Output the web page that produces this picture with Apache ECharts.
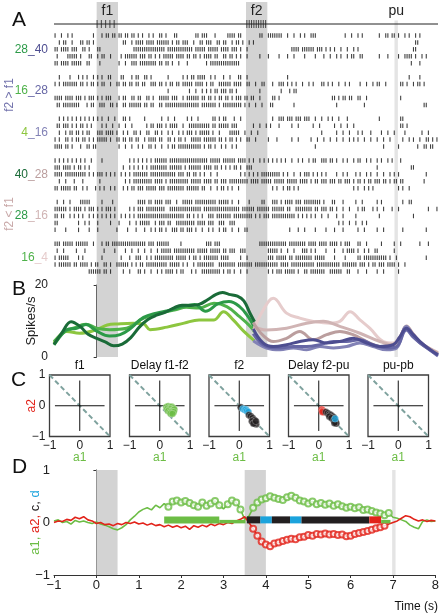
<!DOCTYPE html>
<html><head><meta charset="utf-8">
<script src="https://cdn.jsdelivr.net/npm/echarts@6/dist/echarts.min.js"></script>
<style>html,body{margin:0;padding:0;background:#fff}#c{width:442px;height:616px}</style>
</head><body><div id="c"></div>
<script>
// ================= DATA =================
const TIME_MIN = -1, TIME_MAX = 8;
const f1Band = [0, 0.5];
const f2Band = [3.5, 4.0];
const puBand = [6.98, 7.06];
const f1Ticks = [0.01, 0.11, 0.21, 0.31, 0.41];
const f2Ticks = [3.52, 3.575, 3.63, 3.685, 3.74, 3.795, 3.85, 3.905, 3.96];
const stimLine = [[-1, 0.5], [8, 0.5]];

// raster: each row = 180 bins of 50 ms from -1 s to 8 s ('|' = spike)
const BIN_SEC = 0.05;
const conditions = ['28_40', '16_28', '4_16', '40_28', '28_16', '16_4'];
const raster_28_40 = [
 "|..|..|.|. ........|. ..|.||.||. ||.||.||.| .|..|.|..| |.|...||.. ......||.| ||...|.... .||||.||.. ......||.. |||||||..| ..|..|.|.. |||....... ......|..| ..|.|..... ..|..||.|| .|..|.|..| .|........",
 "..|.||..|. ..||.||.|. .......... ..||..|.|| ||.||||.|| ||||.|.||. |||..|..|| .|||..||.| |..|.||.|. .|.|...... .......... .......... .......... .......... .......... .......... .........| |.........",
 "||.||||.|| |..||.|... ||........ .......||| |||||||||| ||.||||||| |||||.|||| |.|||||.|| ||.|||.|.. |......... .......... .||||.|||| ||.|||.|.| .|..|..|.. |.|....... .......... ........|| ..........",
 ".|....|||| |.|...||.. |.||..|... .|.||||||. |||.||.|.| .|||||.||| |.||.||.|. ||||.||..| |.||.|.|.. |.....|... |....|...| ..|....|.. ..|...|..| ..|.|..|.| |..||..... ..|...|... .|..||||.| ..|.|.....",
 "||.||||.|| |||..||... .|........ |..|..|||. ||||||||.| |.||.|..|. ..|....... .|.||||||| |||||||... .......... .......... .......... .......... .......... .......... .......... .......|.. .|........"
];
const raster_16_28 = [
 "..|....|.. .|.|.|..|. |.|..||... .||...|.|| ..||.|.... ...|...... |.|.||.||| |..|.|...| ..|...||.. |......... .........| .......... .......... .......... .......... .......... ......|... .|........",
 "|.|.|||||| |.||.|.||. |.||..|..| |.||.||.|| .||..|||.| |.|.||.||. |||||.|||| .|.||..||| |||.||||.. ||..|..||. ..|..|||.| .|.|..|..| .|...||.|. |..|..|.|. ...|..|..| .||..|.... ..||.|..|. ||.|......",
 ".......... .......... .......... .......... .......... ...|...... ...|..|..| .|.|.||.|| |.||.|.... ......|... ......|... |.||...... .......... .......... .......... .......... .......... ..........",
 "||||.||||. |||.|.|||. |.|.|||... |.||..||.| |..||.|..| ||||.|||.. |.||||||.| |.||.|.||. ||.|.|||.| |.||..|... ..||.|.... .......... .......... ||.|.||.|| ..||..|... .......... ..|....... ..........",
 ".||.|||||| ||...|.||. .|||..||.| ..||.||||| |.||.||..| |.|||||||| ||||||||.| ||||||.|.| ||||||||.| .|..|..|.. .||....... ..|....... .......... ..|....... .....|.... .......... .......... ...||....."
];
const raster_4_16 = [
 "..|.|.|.|. |.|.|.|.|. |.|..|..|. ..||.|.... ..|....... |..|..|... ..|.|..|.. ....||.|.| |...|..|.. .......... ..|..|||.| ||.|||.||| ..|..|..|. |..|...|.. .......... ..|....... ..||...... ..........",
 ".||.|||.|. |.||.|.|.. ..|.|..|.. |..|..|... ...|.||.|| |.|.||||.. |..||||||| |||.||.||| ||.|||.... ...|..|..| .|...|.... .|..|..... .|..|..... .|..|..|.. |......... .......... ..||.|.... ..........",
 "..|..|.||. ||.|.||... |||.||||.| ..|.|..||. |..||..||. |..|.|..|. |.|||.|.|| |||.|..|.. ..|||||..| ..|..|.... .......... .......... .....|.... ..|..|..|. ..|.|...|. ...|..|..| ....|..... ..|..|....",
 "|.|..||.|. ||.||.|.|. |||||.|..| |.||.||.|| ..|.||||.| |..||.|.|| .|..|||||. ||||||.||. |.||.|.|.. ||..|..... |...|..... .|..|..... |..|..|..| ..|..|..|. |.|..|..|. .|..|..|.. ...|..|.|. .|..||.|.|",
 "||||.||.|. ..|..||.|| .......... |..|..|..| .|..||.|.. |..|.||.|| |||||||||. |.||.|..|. |..|.|.... .......... .......... .......... ..|....... .......... .......... ....|..... .|........ |..||.||.."
];
const raster_40_28 = [
 "|.|.|.|.|. |.|.|..|.. ..|....... .....|.|.| .|.|.|.||| |||.|||||| |||||||||| ||.|||||.| |||||.|||| .|.|..|.|. |.|.|.|.|. .|..|.|..| .||..|||.| |.|..|.|.. |.||..|.|. .|.|..|.|. ..|....... ..........",
 "|||.||||.| .||.|.|... .......... ..|..|.|.| .|.|.||||| |||.|||||| .|.||||||. ||||.||.|. |.|.||.|.. |||....... .......... .......... .......... .......... .......... .|........ .......||. ..........",
 "||||.||||| |||||.|.|. |||.|.|.|. .|.|.|.||| ||||.||||| |||||||.|| |.||.||.|. |..|..|... .......|.| .|.|.|.||| ||||||.|.| ..|..|.||| .|.|.|.|.. ..|..|.|.. .|.|..|.|. .|..|..|.| .|........ ....|.....",
 "..|..|...| ...|...... .|........ ...|.|.||| ||||||.||| |.|.|||||| |||.|||||. ||||.||.|| |.|||||||| |.||||.||| ||.|||||.| ||||.||||. |.||.|||.| ||.||.|||. |.||.|.||. |||.||.|.| |.||...... ...|......",
 "||.|||||.| |..|.|...| .|.|..|.|. ..|.|.||.| ||.|||||.| ||.||||||| |.||||||.| |..|..|.|| .|.|..|... .......... ..|.|..|.| |.|.|..... .......... .......... |.|..|.|.| .......... .|.|..|... .........."
];
const raster_28_16 = [
 ".|..|..|.. ..|||||... ..|....|.. .........| |||.||.||| |.|||..|.. |||||.|||| ||||||.||| ||.|..|... .|.....||. ..|||.|.|| ||.|||.||| |||||.|... ||...|.... .|..|..... .|.|...... ...|..||.. ..........",
 "||||||.|.| |||.|.|||. |.|.|||.|. .....|.|.| ||.||||||| ||..|||||| |||||||||. |||||||||| |||||||.|| ||||.||||| |.||||||.| |..||||||| |.||.|||.| |.|..|..|. ..|.||...| .|..|...|. .|........ .....|...|",
 "||.||..|.| .|.|..|.|. |.|.|.|.|. .|.|.|.|.| |||||||||| |||||||||| |.||.|.|.| ..|||.|||| |||.|||||| |||.|.|.|| |.|||||||| |||.|.|.|. |.|..|..|. ..|..|.... .|........ ..|....... ........|. ..........",
 "||........ .|..|.|... |.....|... |....|..|. |||||..|.| ||.||..||| ||||||.||| |.|||..||| ..|||..... .......... .......... .......... .......... ...|.|..|. .|..|.|... .......... .......... ..........",
 "|....|.... .|....|... |........| ....|...|. ..|..|.|.| |.|..|||.| |.|||.|..| ..|.|..|.| |..|..|..| |......... .......... |...|..|.. ..|....|.. .|...|.... ..|..|.... .|..|..... ...|...... ....|....."
];
const raster_16_4 = [
 "|||.|||||. ||||||..|. ..|.||.||| |||||||||| |||.|||.|| ||||.....| .......... .|||.|||.. .......... ......|||| |||||||||. ||||||||.| |||.||||.| |||.|.|||. ..||..|... ...|.....| ..|....... .|...|....",
 ".|..|..... |...|..... ...|....|. ...|..|..| ..|..|..|. |||||.|||| ||||||.||| ||.|||||.| |.|||..||| .......... |||||.|..| ..|...|||. |.|....|.. .|...|.||| |.|..|.|.. ||.......| .......... ..........",
 "|.|||||... .|.|...... ..|....... .|...|..|| |..|.|.||| ||||||.||| ||.|.||.|. |||||||.|| ||.....|.. |......... |||.|||||. ||.||||||| |.|||||... .|....|... ..||.||||| ||||||.|.. |......... ....|.....",
 "|.||||||.| |.||||.|.| |..||.|..| |||||.|.|. ||.||||||| |||.|||||. |.|..|.||| |||||..||| |||||.|||| |||.|||||| |||||.|||| .||||||||| ||.||||||| ||||.||||| ||.|||.|.| |.|||.|||| .|..|..... ..........",
 ".......... ......|||| ||.||.|... ..|..|...| |.|..|..|. |.||||.|.| |...|.|..| ||||||||.| .||.|..|.. |......... |.|.|||.|| |||.|..||. |||||||..| |||||..||. ..|...|... .|..|..... .|........ .........."
];
const rasterByCondition = [raster_28_40, raster_16_28, raster_4_16, raster_40_28, raster_28_16, raster_16_4];

// firing rates (spikes/s): [time s, rate]
const rate_f1_4  = [[-1,3.9],[-0.7,7.1],[-0.4,6.6],[0,7.6],[0.25,8.9],[0.5,9.2],[0.85,9.4],[1.1,9.2],[1.25,7.6],[1.65,8.3],[2.05,9.4],[2.4,10.3],[2.75,10.3],[2.97,12.6],[3.2,10.3],[3.45,7.1],[3.7,4.5]];
const rate_f1_16 = [[-1,4.3],[-0.75,7],[-0.55,8],[-0.25,9.1],[0,8],[0.3,7.6],[0.7,8],[1.1,10.8],[1.5,12.2],[1.85,13.1],[2.1,13.8],[2.4,13.6],[2.75,14.9],[3.05,14],[3.35,11.2],[3.6,8.5],[3.7,7]];
const rate_f1_28 = [[-1,3.4],[-0.8,6.5],[-0.7,7.6],[-0.47,8],[-0.25,9],[0,7.2],[0.3,5.8],[0.55,6.2],[0.8,8],[1.1,11],[1.4,12.2],[1.7,12.9],[2.0,14],[2.3,14.6],[2.55,12.7],[2.85,14.8],[3.1,15.4],[3.35,14],[3.55,11.2],[3.7,8.2]];
const rate_f1_40 = [[-1,3.5],[-0.8,7],[-0.6,9.8],[-0.4,8.6],[-0.2,6.3],[0,5.2],[0.2,4.2],[0.4,3.1],[0.6,3.6],[0.8,5.4],[1.0,8.3],[1.2,10.4],[1.4,11.6],[1.6,12.4],[1.8,13.6],[2.0,14.4],[2.2,14.3],[2.4,14.6],[2.6,15.9],[2.8,17.4],[2.95,17.9],[3.1,17.4],[3.3,16.9],[3.45,15.6],[3.6,12],[3.7,9.8]];
const rate_28_40 = [[3.67,7.8],[3.9,3.9],[4.14,2.9],[4.45,3.4],[4.76,4.3],[5.08,4.8],[5.39,3.9],[5.7,4.3],[6.01,5.2],[6.33,3.9],[6.64,2.9],[6.95,3.4],[7.1,5.5],[7.26,8],[7.42,6.2],[7.58,4.3],[7.8,2.2],[8,0.6]];
const rate_16_28 = [[3.67,6.5],[3.98,2.9],[4.3,2.5],[4.61,2.9],[4.92,2.9],[5.23,3.4],[5.55,4.3],[5.86,4.3],[6.17,4.8],[6.48,3.4],[6.8,2.5],[7.03,2.9],[7.26,7.5],[7.42,5.5],[7.58,3.9],[7.8,2],[8,0.3]];
const rate_4_16  = [[3.67,4.5],[3.98,2.5],[4.3,2.0],[4.61,2.5],[4.92,2.0],[5.23,2.9],[5.55,2.5],[5.86,2.9],[6.17,3.9],[6.48,2.9],[6.8,2.0],[7.03,2.5],[7.26,8.5],[7.42,6],[7.58,3.9],[7.8,2.1],[8,0.6]];
const rate_40_28 = [[3.67,9.6],[3.9,6],[4.14,4.3],[4.45,5.2],[4.76,7.1],[5.08,4.8],[5.39,6.2],[5.7,7.1],[6.01,6.2],[6.33,4.3],[6.64,2.9],[6.95,3.4],[7.1,5.2],[7.26,8.6],[7.42,6.4],[7.58,4.2],[7.8,2.3],[8,0.9]];
const rate_28_16 = [[3.67,8.4],[3.98,7.5],[4.45,8],[4.92,9.4],[5.31,9.9],[5.7,8.5],[6.17,6.6],[6.64,4.3],[6.95,3.4],[7.1,5.4],[7.26,8.3],[7.42,6.2],[7.58,4],[7.8,2.4],[8,1.2]];
const rate_16_4  = [[3.67,7.2],[3.9,13],[4.14,16.3],[4.45,12.2],[4.76,10.8],[5.08,9.9],[5.47,9.4],[5.7,9.9],[5.94,12.6],[6.17,10.3],[6.4,8],[6.72,4.3],[6.95,3.9],[7.1,5.5],[7.26,8.3],[7.42,6],[7.58,3.9],[7.8,2.2],[8,1]];

// panel C: (a1, a2) points per epoch
const cEpochTitles = ['f1', 'Delay f1-f2', 'f2', 'Delay f2-pu', 'pu-pb'];
const diagLine = [[-1, 1], [1, -1]];
const crossH = [[-0.82, 0], [0.82, 0]];
const crossV = [[0, -0.82], [0, 0.82]];
const cDelay12_a1 = [[0.22,-0.04],[0.28,-0.02],[0.34,-0.05],[0.4,-0.03],[0.45,-0.08],[0.25,-0.1],[0.31,-0.12],[0.37,-0.1],[0.43,-0.14],[0.48,-0.12],[0.28,-0.17],[0.34,-0.2],[0.4,-0.19],[0.46,-0.2],[0.36,-0.25],[0.42,-0.26]];
const cF2_c1 = [[0.05,-0.05]];
const cF2_d  = [[0.12,-0.1],[0.18,-0.13],[0.22,-0.12],[0.25,-0.17],[0.3,-0.2]];
const cF2_c2 = [[0.32,-0.3],[0.38,-0.34],[0.44,-0.4],[0.5,-0.46],[0.42,-0.5],[0.5,-0.56],[0.56,-0.6],[0.47,-0.58],[0.55,-0.5]];
const cF2pu_a2 = [[0.1,-0.12],[0.14,-0.16],[0.18,-0.2],[0.12,-0.2]];
const cF2pu_c  = [[0.24,-0.2],[0.3,-0.24],[0.35,-0.28],[0.4,-0.3],[0.45,-0.34],[0.5,-0.38],[0.35,-0.35],[0.42,-0.4],[0.5,-0.48],[0.56,-0.52],[0.58,-0.58],[0.52,-0.56]];
const cF2pu_d  = [[0.54,-0.42]];

// panel D: time course of coefficients (0.1 s steps from -1 to 8 s)
const dTime = Array.from({length: 91}, (_, i) => +(TIME_MIN + i * 0.1).toFixed(1));
const a1Values = [0.03,0.05,0.0,0.02,-0.03,0.04,0.01,0.03,0.0,-0.02,
  0.01,-0.03,-0.05,-0.08,-0.12,-0.14,-0.1,-0.04,0.05,0.12,
  0.2,0.25,0.28,0.24,0.33,0.28,0.36,0.3,0.4,0.42,
  0.38,0.41,0.37,0.33,0.3,0.38,0.32,0.36,0.41,0.33,
  0.26,0.35,0.42,0.38,0.25,0.06,0.12,0.28,0.38,0.44,
  0.46,0.5,0.47,0.45,0.43,0.48,0.51,0.47,0.42,0.4,
  0.36,0.4,0.35,0.37,0.34,0.36,0.32,0.35,0.31,0.28,
  0.3,0.27,0.29,0.24,0.25,0.22,0.19,0.17,0.14,0.18,
  0.1,0.08,0.05,0.02,-0.05,-0.09,-0.12,0.02,0.05,0.02,0.03];
const a2Values = [0.0,0.03,0.02,0.06,0.04,0.1,0.07,0.11,0.05,0.03,
  -0.02,0.0,-0.04,-0.03,-0.06,-0.02,-0.04,0.0,-0.02,0.01,
  -0.03,-0.01,-0.05,-0.02,-0.06,-0.04,-0.08,-0.05,-0.09,-0.06,
  -0.1,-0.07,-0.13,-0.06,-0.09,-0.05,-0.08,-0.03,-0.06,-0.02,
  -0.04,0.0,-0.02,0.03,0.06,0.11,0.0,-0.12,-0.25,-0.36,
  -0.42,-0.45,-0.4,-0.38,-0.35,-0.33,-0.31,-0.32,-0.28,-0.27,
  -0.24,-0.25,-0.22,-0.23,-0.21,-0.23,-0.22,-0.24,-0.23,-0.26,
  -0.25,-0.22,-0.2,-0.18,-0.16,-0.14,-0.11,-0.09,-0.06,-0.03,
  0.0,0.03,0.08,0.13,0.11,0.06,0.03,0.05,0.02,0.04,0.03];
const a1SigWindows = [[1.7, 2.9], [3.1, 3.4], [3.7, 6.95]];
const a2SigWindows = [[3.7, 6.8]];
const BAR_Y = 0.05;
const barSegments = [[1.6,2.9,'a1'],[2.9,3.52,'a1thin'],[3.55,3.87,'c'],[3.87,4.14,'d'],[4.14,4.57,'c'],[4.57,4.84,'d'],[4.84,6.44,'c'],[6.44,6.72,'a2'],[6.72,6.94,'a1thin']];

// ================= STYLE =================
const FONT = '"Liberation Sans", Arial, Helvetica, sans-serif';
const GREEN = '#6cbd45', RED = '#e2231a', BLACK = '#231f20', BLUE = '#1ba3dc';
const BAND = '#d3d3d3', PU_BAND = '#e4e4e4';
const f1Colors = {4: '#8dc63f', 16: '#4fb24a', 28: '#2c9a48', 40: '#1a6b38'};
const f2UpColors = {16: '#8282b6', 28: '#6666a5', 40: '#4d4d90'};
const f2DownColors = {4: '#e6cccc', 16: '#d0b4b4', 28: '#bb9e9e'};
const fmt = v => v < 0 ? '\u2212' + Math.abs(v) : String(v);

// ================= BUILD =================
const ROWS_PER_GROUP = 6;
const spikes = [];
rasterByCondition.forEach((rows, g) => rows.forEach((row, k) => {
  const bins = row.trim().split(/\s+/).map(b => (b + '..........').slice(0, 10)).join('');
  for (let i = 0; i < bins.length; i++) {
    if (bins[i] === '|') spikes.push([TIME_MIN + (i + 0.5) * BIN_SEC, g * ROWS_PER_GROUP + k]);
  }
}));
const NROWS = ROWS_PER_GROUP * conditions.length - 1;
const rowNames = Array.from({length: NROWS}, (_, i) => conditions[Math.floor(i / ROWS_PER_GROUP)]);
const richLabels = {};
Object.keys(f1Colors).forEach(k => richLabels['g' + k] = {color: f1Colors[k], fontSize: 12, fontFamily: FONT});
Object.keys(f2UpColors).forEach(k => richLabels['u' + k] = {color: f2UpColors[k], fontSize: 12, fontFamily: FONT});
Object.keys(f2DownColors).forEach(k => richLabels['p' + k] = {color: f2DownColors[k], fontSize: 12, fontFamily: FONT});
function condLabel(c) {
  const [f1, f2] = c.split('_').map(Number);
  return '{g' + f1 + '|' + f1 + '}{' + (f2 > f1 ? 'u' : 'p') + f2 + '|_' + f2 + '}';
}

const inWin = (t, wins) => wins.some(([s, e]) => t >= s - 1e-6 && t <= e + 1e-6);
const a1Data = dTime.map((t, i) => [t, a1Values[i]]);
const a2Data = dTime.map((t, i) => [t, a2Values[i]]);
const a1Sig = a1Data.filter(p => inWin(p[0], a1SigWindows));
const a2Sig = a2Data.filter(p => inWin(p[0], a2SigWindows));
const BAR_KINDS = {a1: {color: GREEN, thin: false}, a1thin: {color: GREEN, thin: true}, a2: {color: RED, thin: false}, c: {color: BLACK, thin: false}, d: {color: BLUE, thin: false}};
const kindNames = Object.keys(BAR_KINDS);
const barData = barSegments.map(([s, e, k]) => [s, e, kindNames.indexOf(k), BAR_Y]);

const C_LEFTS = [49.5, 129.5, 209, 288.5, 368];
const C_W = 60.5, C_TOP = 375, C_H = 61.5;

const grids = [
  {left: 54, top: 2, width: 384, height: 355},
  {left: 54, top: 14, width: 384, height: 20},
  {left: 54, top: 32, width: 384, height: 243},
  {left: 54, top: 285, width: 384, height: 72},
  ...C_LEFTS.map(l => ({left: l, top: C_TOP, width: C_W, height: C_H, show: true, borderColor: '#3d3d3d', borderWidth: 1.3, backgroundColor: 'transparent'})),
  {left: 54, top: 470, width: 384, height: 105}
];
const timeAxisHidden = gi => ({gridIndex: gi, type: 'value', min: TIME_MIN, max: TIME_MAX, show: false});
const xAxes = [timeAxisHidden(0), timeAxisHidden(1), timeAxisHidden(2), timeAxisHidden(3)];
const yAxes = [
  {gridIndex: 0, type: 'value', min: 0, max: 1, show: false},
  {gridIndex: 1, type: 'value', min: 0, max: 1, show: false},
  {gridIndex: 2, type: 'category', data: rowNames, inverse: true, boundaryGap: true,
    axisLine: {show: false}, axisTick: {show: false}, splitLine: {show: false},
    axisLabel: {interval: (idx) => idx % ROWS_PER_GROUP === 2, margin: 6, fontSize: 12,
      formatter: (v) => condLabel(v), rich: richLabels}},
  {gridIndex: 3, type: 'value', min: 0, max: 20, interval: 20, offset: 2,
    axisLine: {show: true, lineStyle: {color: '#333', width: 1}},
    axisTick: {show: true, length: 3, lineStyle: {color: '#333'}},
    splitLine: {show: false},
    axisLabel: {fontSize: 12, color: '#222', margin: 4, fontFamily: FONT},
    name: 'Spikes/s', nameLocation: 'middle', nameGap: 14, nameRotate: 90, nameMoveOverlap: false,
    nameTextStyle: {fontSize: 13, color: '#222', fontFamily: FONT}}
];
C_LEFTS.forEach((l, i) => {
  const gi = 4 + i;
  xAxes.push({gridIndex: gi, type: 'value', min: -1, max: 1, interval: 1,
    axisLine: {show: false}, axisTick: {show: false}, splitLine: {show: false},
    axisLabel: {fontSize: 12, color: '#222', margin: 3, formatter: fmt, fontFamily: FONT},
    name: 'a1', nameLocation: 'middle', nameGap: 15, nameMoveOverlap: false, nameTextStyle: {color: GREEN, fontSize: 12, fontFamily: FONT}});
  yAxes.push({gridIndex: gi, type: 'value', min: -1, max: 1, interval: 1,
    axisLine: {show: false}, axisTick: {show: false}, splitLine: {show: false},
    axisLabel: {show: i === 0, fontSize: 12, color: '#222', margin: 4, formatter: fmt, fontFamily: FONT},
    name: i === 0 ? 'a2' : '', nameLocation: 'middle', nameGap: 12, nameRotate: 90, nameMoveOverlap: false,
    nameTextStyle: {color: RED, fontSize: 12, fontFamily: FONT}});
});
xAxes.push({gridIndex: 9, type: 'value', min: TIME_MIN, max: TIME_MAX, interval: 1,
  axisLine: {show: true, onZero: false, lineStyle: {color: '#333', width: 1}},
  axisTick: {show: true, length: 3, lineStyle: {color: '#333'}},
  splitLine: {show: false},
  axisLabel: {fontSize: 13, color: '#222', margin: 4, formatter: fmt, fontFamily: FONT}});
yAxes.push({gridIndex: 9, type: 'value', min: -1, max: 1, interval: 1,
  axisLine: {show: true, lineStyle: {color: '#333', width: 1}},
  axisTick: {show: true, length: 3, lineStyle: {color: '#333'}},
  splitLine: {show: false},
  axisLabel: {fontSize: 13, color: '#222', margin: 4, formatter: fmt, fontFamily: FONT},
  name: '{g|a1,} {r|a2,} {k|c,} {b|d}', nameLocation: 'middle', nameGap: 12, nameRotate: 90, nameMoveOverlap: false,
  nameTextStyle: {fontSize: 13, fontFamily: FONT, rich: {
    g: {color: GREEN, fontSize: 13, fontFamily: FONT}, r: {color: RED, fontSize: 13, fontFamily: FONT},
    k: {color: BLACK, fontSize: 13, fontFamily: FONT}, b: {color: BLUE, fontSize: 13, fontFamily: FONT}}}});

const series = [];
// bands behind panels A and B
series.push({type: 'line', xAxisIndex: 0, yAxisIndex: 0, data: [[TIME_MIN, 0]], symbol: 'none', lineStyle: {opacity: 0}, silent: true, z: 0,
  markArea: {silent: true, itemStyle: {color: BAND},
    label: {show: true, position: 'insideTop', distance: 2, fontSize: 14, color: '#222', fontFamily: FONT},
    data: [
      [{xAxis: f1Band[0], yAxis: 0, name: 'f1'}, {xAxis: f1Band[1], yAxis: 1}],
      [{xAxis: f2Band[0], yAxis: 0, name: 'f2'}, {xAxis: f2Band[1], yAxis: 1}],
      [{xAxis: puBand[0], yAxis: 0, name: 'pu', itemStyle: {color: PU_BAND}, label: {position: 'top', distance: 2}}, {xAxis: puBand[1], yAxis: 0.948}]
    ]}});
// stimulus line
series.push({type: 'line', xAxisIndex: 1, yAxisIndex: 1, data: stimLine, symbol: 'none', lineStyle: {color: '#222', width: 1}, silent: true, z: 3});
series.push({type: 'scatter', xAxisIndex: 1, yAxisIndex: 1, data: [...f1Ticks, ...f2Ticks].map(t => [t, 0.5]), symbol: 'rect', symbolSize: [1, 8], itemStyle: {color: '#222'}, silent: true, z: 3});
// raster
series.push({type: 'scatter', xAxisIndex: 2, yAxisIndex: 2, data: spikes, symbol: 'rect', symbolSize: [1.1, 4.5], itemStyle: {color: '#111'}, silent: true, z: 3});
// rates
const rateSeries = [
  [rate_f1_4, f1Colors[4]], [rate_f1_16, f1Colors[16]], [rate_f1_28, f1Colors[28]], [rate_f1_40, f1Colors[40]],
  [rate_16_4, f2DownColors[4]], [rate_28_16, f2DownColors[16]], [rate_40_28, f2DownColors[28]],
  [rate_4_16, f2UpColors[16]], [rate_16_28, f2UpColors[28]], [rate_28_40, f2UpColors[40]]
];
rateSeries.forEach(([d, c]) => series.push({type: 'line', xAxisIndex: 3, yAxisIndex: 3, data: d, smooth: 0.4, symbol: 'none', lineStyle: {color: c, width: 3}, silent: true, z: 3}));
// panel C
const cPoints = [
  [],
  [[cDelay12_a1, GREEN]],
  [[cF2_c1, BLACK], [cF2_d, BLUE], [cF2_c2, BLACK]],
  [[cF2pu_a2, RED], [cF2pu_c, BLACK], [cF2pu_d, BLUE]],
  []
];
C_LEFTS.forEach((l, i) => {
  const ax = 4 + i;
  series.push({type: 'line', xAxisIndex: ax, yAxisIndex: ax, data: diagLine, symbol: 'none', lineStyle: {color: '#7fa29e', width: 2, type: [5, 3]}, silent: true, z: 2});
  series.push({type: 'line', xAxisIndex: ax, yAxisIndex: ax, data: crossH, symbol: 'none', lineStyle: {color: '#111', width: 1}, silent: true, z: 3});
  series.push({type: 'line', xAxisIndex: ax, yAxisIndex: ax, data: crossV, symbol: 'none', lineStyle: {color: '#111', width: 1}, silent: true, z: 3});
  cPoints[i].forEach(([pts, col]) => series.push({type: 'scatter', xAxisIndex: ax, yAxisIndex: ax, data: pts, symbol: 'circle', symbolSize: 7,
    itemStyle: {color: col, borderColor: 'rgba(255,255,255,0.55)', borderWidth: 0.6}, silent: true, z: 4}));
});
// panel D
series.push({type: 'line', xAxisIndex: 9, yAxisIndex: 9, data: [[TIME_MIN, 0]], symbol: 'none', lineStyle: {opacity: 0}, silent: true, z: 0,
  markArea: {silent: true, itemStyle: {color: BAND}, data: [
    [{xAxis: f1Band[0]}, {xAxis: f1Band[1]}],
    [{xAxis: f2Band[0]}, {xAxis: f2Band[1]}],
    [{xAxis: puBand[0], itemStyle: {color: PU_BAND}}, {xAxis: puBand[1]}]
  ]}});
series.push({type: 'line', xAxisIndex: 9, yAxisIndex: 9, data: a1Data, symbol: 'none', lineStyle: {color: GREEN, width: 1.6}, silent: true, z: 3});
series.push({type: 'line', xAxisIndex: 9, yAxisIndex: 9, data: a2Data, symbol: 'none', lineStyle: {color: RED, width: 1.6}, silent: true, z: 4});
series.push({type: 'scatter', xAxisIndex: 9, yAxisIndex: 9, data: a1Sig, symbol: 'emptyCircle', symbolSize: 6, itemStyle: {color: GREEN, borderColor: GREEN, borderWidth: 1.1}, silent: true, z: 3});
series.push({type: 'scatter', xAxisIndex: 9, yAxisIndex: 9, data: a2Sig, symbol: 'emptyCircle', symbolSize: 6, itemStyle: {color: RED, borderColor: RED, borderWidth: 1.1}, silent: true, z: 4});
series.push({type: 'custom', xAxisIndex: 9, yAxisIndex: 9, data: barData, encode: {x: [0, 1], y: 3}, silent: true, z: 5,
  renderItem: (params, api) => {
    const p1 = api.coord([api.value(0), api.value(3)]);
    const p2 = api.coord([api.value(1), api.value(3)]);
    const k = BAR_KINDS[kindNames[api.value(2)]];
    const h = 7;
    return {type: 'rect', shape: {x: p1[0], y: k.thin ? p1[1] : p1[1] - h / 2, width: p2[0] - p1[0], height: k.thin ? h / 2 : h}, style: {fill: k.color}};
  }});

const txt = (text, x, y, size, color, extra) => Object.assign({type: 'text', x, y, silent: true,
  style: {text, fill: color || '#111', font: size + 'px ' + FONT, textAlign: 'left', textVerticalAlign: 'middle', align: 'left', verticalAlign: 'middle'}}, extra || {});
const graphic = [
  txt('A', 12, 20, 21), txt('B', 12, 289, 21), txt('C', 11, 380, 21), txt('D', 12, 467, 21),
  Object.assign(txt('f2 > f1', 10, 95, 12, '#7474ad'), {rotation: Math.PI / 2}),
  Object.assign(txt('f2 < f1', 10, 214, 12, '#c9a9a9'), {rotation: Math.PI / 2}),
  ...cEpochTitles.map((t, i) => txt(t, C_LEFTS[i] + C_W / 2, 366, 12, '#111')),
  txt('Time (s)', 438, 607, 12, '#111')
];
graphic.forEach((g, i) => {
  if (g.rotation || (i >= 6)) { g.style.textAlign = 'center'; g.style.align = 'center'; }
});
graphic[graphic.length - 1].style.textAlign = 'right';
graphic[graphic.length - 1].style.align = 'right';

const chart = echarts.init(document.getElementById('c'), null, {renderer: 'canvas'});
chart.setOption({animation: false, backgroundColor: '#fff', textStyle: {fontFamily: FONT},
  grid: grids, xAxis: xAxes, yAxis: yAxes, series, graphic});
</script>
</body></html>
